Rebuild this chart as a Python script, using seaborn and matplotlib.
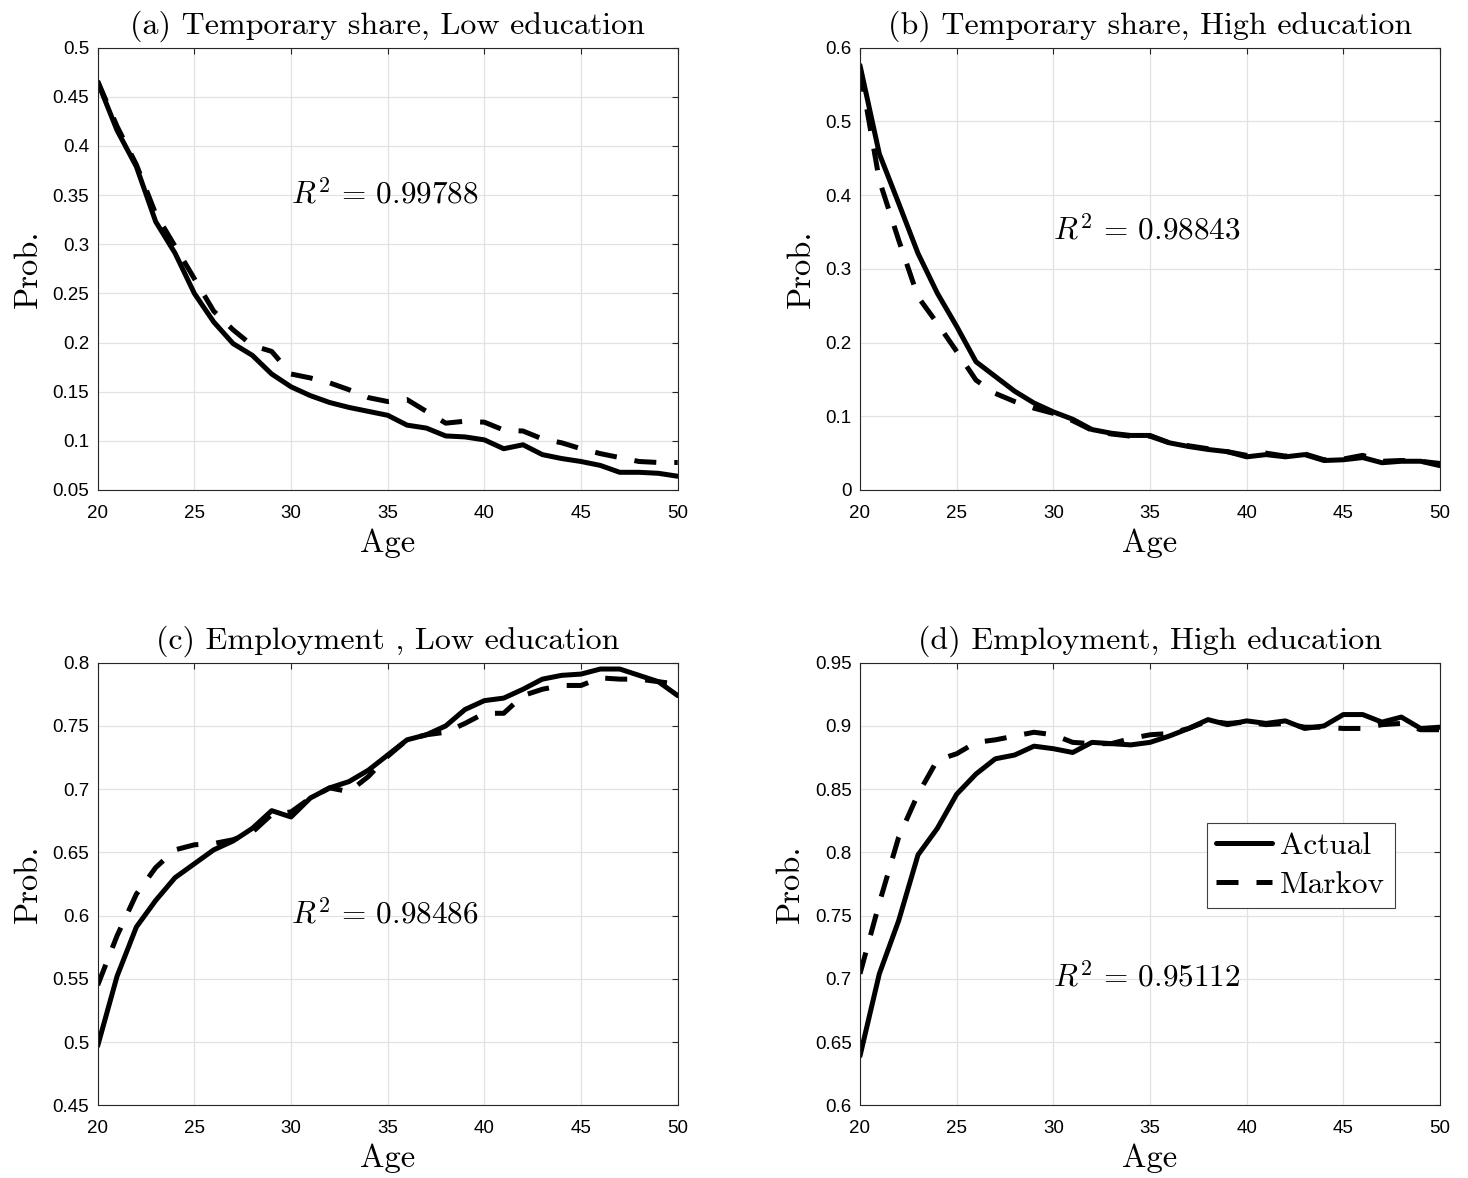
import matplotlib
matplotlib.use("Agg")
import numpy as np
import matplotlib.pyplot as plt
import seaborn as sns
from matplotlib.ticker import FuncFormatter

# ---- data -------------------------------------------------------------
ages = list(range(20, 51))

temp_low_actual = [0.465, 0.416, 0.379, 0.323, 0.291, 0.250, 0.221, 0.199, 0.187, 0.168,
                   0.155, 0.146, 0.139, 0.134, 0.130, 0.126, 0.116, 0.113, 0.105, 0.104,
                   0.101, 0.092, 0.096, 0.086, 0.082, 0.079, 0.075, 0.068, 0.068, 0.067, 0.064]
temp_low_markov = [0.466, 0.420, 0.381, 0.331, 0.298, 0.265, 0.232, 0.213, 0.197, 0.191,
                   0.168, 0.164, 0.159, 0.152, 0.144, 0.140, 0.142, 0.130, 0.118, 0.120,
                   0.119, 0.111, 0.110, 0.102, 0.098, 0.092, 0.087, 0.083, 0.079, 0.078, 0.078]

temp_high_actual = [0.576, 0.456, 0.389, 0.321, 0.267, 0.222, 0.174, 0.154, 0.134, 0.118,
                    0.106, 0.096, 0.082, 0.077, 0.074, 0.074, 0.064, 0.059, 0.055, 0.052,
                    0.045, 0.048, 0.045, 0.048, 0.040, 0.041, 0.044, 0.037, 0.039, 0.039, 0.033]
temp_high_markov = [0.570, 0.420, 0.339, 0.262, 0.226, 0.188, 0.149, 0.131, 0.120, 0.111,
                    0.104, 0.094, 0.081, 0.076, 0.073, 0.073, 0.064, 0.060, 0.056, 0.052,
                    0.047, 0.050, 0.046, 0.049, 0.041, 0.042, 0.047, 0.039, 0.040, 0.039, 0.036]

emp_low_actual = [0.497, 0.552, 0.591, 0.612, 0.630, 0.641, 0.652, 0.659, 0.669, 0.683,
                  0.678, 0.693, 0.701, 0.706, 0.715, 0.727, 0.739, 0.743, 0.750, 0.763,
                  0.770, 0.772, 0.779, 0.787, 0.790, 0.791, 0.795, 0.795, 0.790, 0.785, 0.774]
emp_low_markov = [0.545, 0.584, 0.617, 0.638, 0.652, 0.656, 0.657, 0.660, 0.666, 0.680,
                  0.682, 0.693, 0.701, 0.698, 0.710, 0.726, 0.739, 0.743, 0.745, 0.752,
                  0.760, 0.760, 0.774, 0.779, 0.782, 0.782, 0.788, 0.787, 0.787, 0.785, 0.783]

emp_high_actual = [0.639, 0.704, 0.746, 0.798, 0.819, 0.846, 0.862, 0.874, 0.877, 0.884,
                   0.882, 0.879, 0.887, 0.886, 0.885, 0.887, 0.892, 0.898, 0.905, 0.901,
                   0.904, 0.902, 0.904, 0.898, 0.900, 0.909, 0.909, 0.903, 0.907, 0.898, 0.899]
emp_high_markov = [0.704, 0.760, 0.812, 0.846, 0.873, 0.878, 0.887, 0.889, 0.892, 0.895,
                   0.893, 0.887, 0.886, 0.886, 0.890, 0.893, 0.894, 0.898, 0.904, 0.902,
                   0.903, 0.901, 0.902, 0.899, 0.899, 0.898, 0.898, 0.901, 0.902, 0.897, 0.897]

titles = ["(a) Temporary share, Low education",
          "(b) Temporary share, High education",
          "(c) Employment , Low education",
          "(d) Employment, High education"]
r2_labels = ["0.99788", "0.98843", "0.98486", "0.95112"]
r2_y = [0.35, 0.35, 0.60, 0.70]
y_limits = [(0.05, 0.5), (0.0, 0.6), (0.45, 0.8), (0.6, 0.95)]
y_steps = [0.05, 0.1, 0.05, 0.05]
x_ticks = [20, 25, 30, 35, 40, 45, 50]
series_names = ["Actual", "Markov"]

# ---- style ------------------------------------------------------------
sns.set_theme(style="whitegrid")
plt.rcParams.update({
    "font.family": ["Liberation Sans", "DejaVu Sans"],
    "mathtext.fontset": "cm",
    "text.color": "black",
    "axes.labelcolor": "black",
    "axes.edgecolor": "#262626",
    "axes.linewidth": 0.8,
    "grid.color": "#e2e2e2",
    "grid.linewidth": 0.9,
    "xtick.direction": "in",
    "ytick.direction": "in",
    "xtick.color": "#262626",
    "ytick.color": "#262626",
    "xtick.labelcolor": "black",
    "ytick.labelcolor": "black",
})

SERIF = "cmr10"
LW = 3.6
DASH = (0, (4.4, 3.6))

W, H = 1468, 1178
fig = plt.figure(figsize=(W / 100, H / 100), dpi=100)
fig.patch.set_facecolor("white")

# axes boxes in pixels: (left, top, right, bottom)
boxes = [(97.7, 47.7, 677.7, 490.0),
         (860.0, 47.7, 1440.0, 490.0),
         (97.7, 662.7, 677.7, 1105.3),
         (860.0, 662.7, 1440.0, 1105.3)]

panels = [(temp_low_actual, temp_low_markov),
          (temp_high_actual, temp_high_markov),
          (emp_low_actual, emp_low_markov),
          (emp_high_actual, emp_high_markov)]

fmt = FuncFormatter(lambda v, _: f"{v:g}")

for i, ((actual, markov), (l, t, r, b)) in enumerate(zip(panels, boxes)):
    ax = fig.add_axes([l / W, 1 - b / H, (r - l) / W, (b - t) / H])
    ax.set_facecolor("white")
    ax.set_axisbelow(True)

    sns.lineplot(x=ages, y=actual, ax=ax, color="black", linewidth=LW,
                 legend=False, label=series_names[0])
    sns.lineplot(x=ages, y=markov, ax=ax, color="black", linewidth=LW,
                 linestyle=DASH, legend=False, label=series_names[1])

    lo, hi = y_limits[i]
    ax.set_xlim(20, 50)
    ax.set_ylim(lo, hi)
    ax.set_xticks(x_ticks)
    ax.set_yticks(np.arange(lo, hi + 1e-9, y_steps[i]))
    ax.xaxis.set_major_formatter(fmt)
    ax.yaxis.set_major_formatter(fmt)
    ax.tick_params(axis="both", which="major", length=4.5, width=0.8,
                   top=True, right=True, labelsize=13.5)
    ax.tick_params(axis="x", pad=10.5)
    ax.tick_params(axis="y", pad=6)
    for s in ax.spines.values():
        s.set_visible(True)
        s.set_color("#262626")
        s.set_linewidth(0.8)
    ax.grid(True, color="#e2e2e2", linewidth=0.9)

    ax.set_title(titles[i], family=SERIF, fontsize=23, pad=10)
    ax.set_xlabel("Age", family=SERIF, fontsize=23.5, labelpad=5)
    ax.set_ylabel("Prob.", family=SERIF, fontsize=23.5, labelpad=7)

    ax.text(30, r2_y[i], rf"$R^2\,=\,{r2_labels[i]}$", fontsize=22.5,
            ha="left", va="center")

    if i == 3:
        handles = ax.get_lines()[:2]
        leg = ax.legend(handles, series_names, loc="upper left",
                        bbox_to_anchor=(0.598, 0.638), borderaxespad=0,
                        prop={"family": SERIF, "size": 22.5},
                        handlelength=1.8, handletextpad=0.25,
                        borderpad=0.3, labelspacing=0.35,
                        fancybox=False, framealpha=1, edgecolor="#404040")
        leg.get_frame().set_linewidth(0.8)

fig.savefig("out.png", dpi=100, facecolor="white")
